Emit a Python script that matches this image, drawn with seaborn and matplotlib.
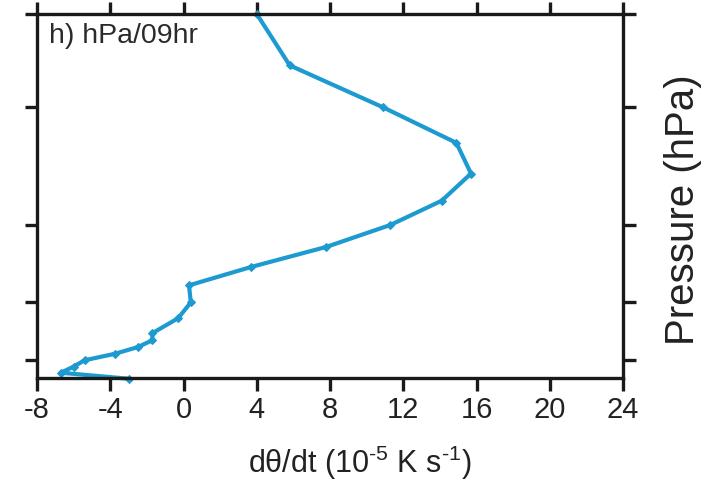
import matplotlib
matplotlib.use("Agg")
import matplotlib.pyplot as plt
import seaborn as sns
import pandas as pd

# Data
pressure = [200, 250, 300, 350, 400, 450, 500, 550, 600, 650, 700, 750,
            800, 825, 850, 875, 900, 925, 950, 975]
dtheta_dt = [4.0, 5.8, 10.9, 14.9, 15.7, 14.1, 11.3, 7.8, 3.7, 0.3, 0.4, -0.3,
             -1.7, -1.7, -2.5, -3.75, -5.4, -6.0, -6.7, -3.0]
xticks = [-8, -4, 0, 4, 8, 12, 16, 20, 24]
yticks = [200, 300, 500, 700, 900]
title = "h) hPa/09hr"
xlabel = r"d$\mathregular{\theta}$/dt (10$^{\text{-5}}$ K s$^{\text{-1}}$)"
ylabel = "Pressure (hPa)"

df = pd.DataFrame({"p": pressure, "v": dtheta_dt})

sns.set_theme(style="white")
plt.rcParams['font.family'] = ['Liberation Sans', 'DejaVu Sans']
plt.rcParams['mathtext.fontset'] = 'custom'
plt.rcParams['mathtext.rm'] = 'Liberation Sans'
plt.rcParams['mathtext.it'] = 'Liberation Sans'
plt.rcParams['axes.unicode_minus'] = False

fig = plt.figure(figsize=(7.28, 4.88), dpi=100)
ax = fig.add_axes([37/728, 1-378/488, (623-37)/728, (378-14)/488])

color = "#1d9bd0"
sns.lineplot(data=df, x="v", y="p", sort=False, estimator=None, orient="y",
             color=color, lw=3.0, marker="D", markersize=4.5,
             markeredgecolor=color, ax=ax, clip_on=False)

ax.set_yscale("log")
ax.set_ylim(972, 200)
ax.set_xlim(-8, 24)
ax.set_xticks(xticks)
ax.set_xticklabels([str(t) for t in xticks])
ax.set_yticks(yticks)
ax.set_yticklabels([])
ax.yaxis.set_minor_locator(matplotlib.ticker.NullLocator())
ax.set_xlabel("")
ax.set_ylabel("")

for s in ax.spines.values():
    s.set_visible(True)
    s.set_linewidth(2.4)
    s.set_color("#1a1a1a")

ax.tick_params(axis="both", which="major", direction="out", length=9, width=2.4,
               color="#1a1a1a", top=True, bottom=True, left=True, right=True,
               labelsize=21, pad=4, labelcolor="#222222")
ax.tick_params(axis="y", labelleft=False, labelright=False)

ax.text(0.02, 0.975, title, transform=ax.transAxes, ha="left", va="top",
        fontsize=20.5, color="#2a2a2a")

fig.text(360/728, 1-463/488, xlabel, ha="center", va="center", fontsize=22,
         color="#222222")
fig.text(683/728, 1-210/488, ylabel, ha="center", va="center", rotation=90,
         fontsize=29, color="#222222")

fig.savefig("out.png", dpi=100)
